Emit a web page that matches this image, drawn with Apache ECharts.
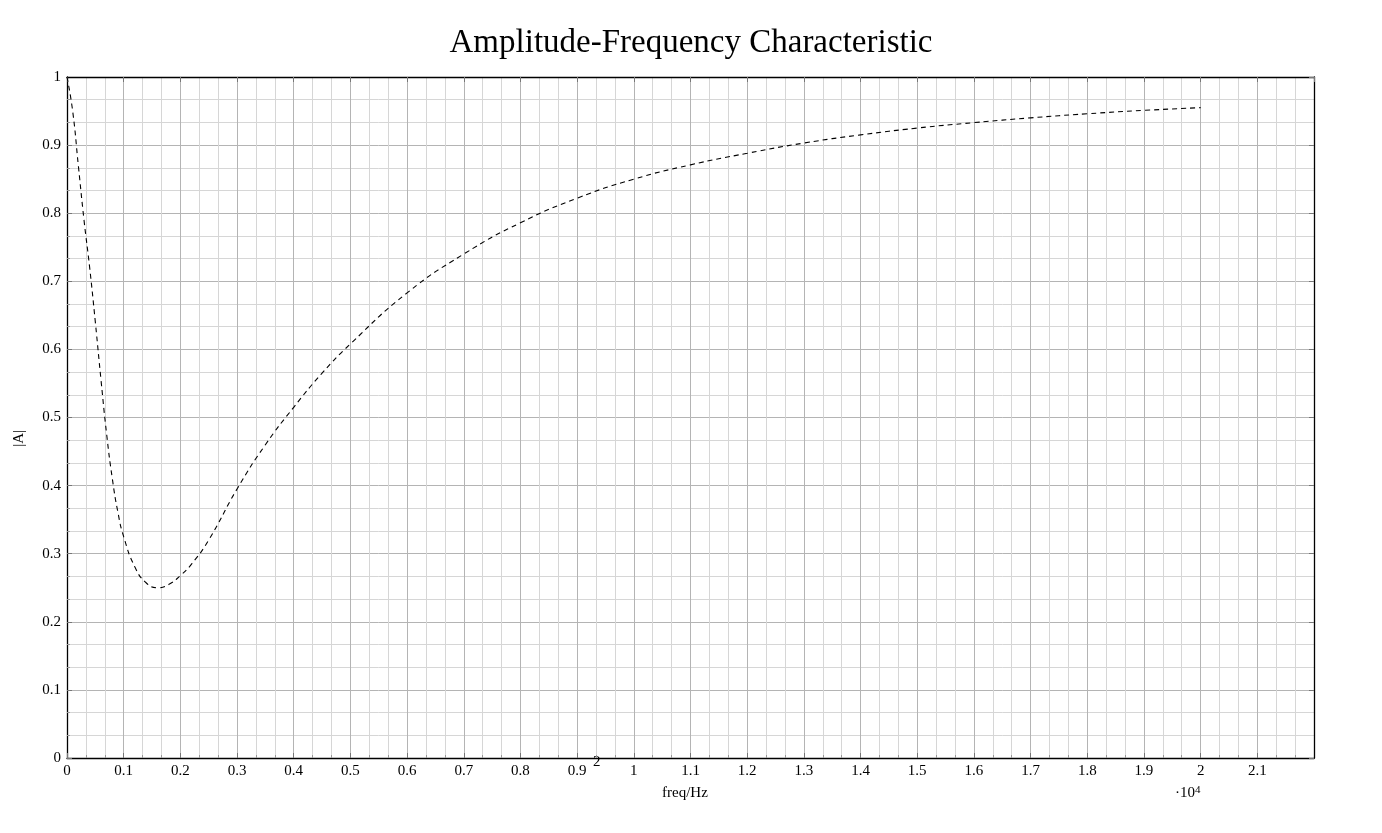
<!DOCTYPE html>
<html>
<head>
<meta charset="utf-8">
<script src="https://cdn.jsdelivr.net/npm/echarts@6/dist/echarts.min.js"></script>
<style>html,body{margin:0;padding:0;background:#fff}#main{width:1382px;height:833px}</style>
</head>
<body>
<div id="main"></div>
<script>
// frequency in Hz, amplitude |A|
var freqHz = [0, 100, 200, 300, 400, 500, 600, 700, 800, 900, 1000, 1200, 1400, 1600, 1800, 2000, 2200, 2500,
  3000, 3500, 4000, 4500, 5000, 6000, 7000, 8000, 9000, 10000, 11000, 12000, 13000, 14000, 15000, 16000, 17000, 18000, 19000, 20000];
var amplitude = [1, 0.95, 0.87, 0.79, 0.72, 0.64, 0.555, 0.475, 0.41, 0.36, 0.325, 0.28, 0.257, 0.25, 0.255, 0.268, 0.285, 0.32,
  0.395, 0.46, 0.515, 0.565, 0.608, 0.683, 0.74, 0.786, 0.822, 0.85, 0.871, 0.888, 0.903, 0.915, 0.925, 0.933, 0.94, 0.946, 0.951, 0.955];

var serif = '"Liberation Serif", "DejaVu Serif", serif';
var points = freqHz.map(function(f, i){ return [f, amplitude[i]]; });

var chart = echarts.init(document.getElementById('main'));

var baseAxis = {
  z: 5,
  axisLine: {show: true, onZero: false, lineStyle: {color: '#000', width: 1.3}},
  axisTick: {show: true, inside: true, length: 5, lineStyle: {color: '#777'}},
  minorTick: {show: true, splitNumber: 3, length: 3, lineStyle: {color: '#999'}},
  splitLine: {show: true, lineStyle: {color: '#b4b4b4', width: 1}},
  minorSplitLine: {show: true, lineStyle: {color: '#d6d6d6', width: 1}}
};
var mirror = {
  z: 6,
  axisLine: {show: true, onZero: false, lineStyle: {color: '#000', width: 1.3}},
  axisTick: {show: true, inside: true, length: 5, lineStyle: {color: '#777'}},
  axisLabel: {show: false}, splitLine: {show: false}
};

chart.setOption({
  animation: false,
  title: {
    text: 'Amplitude-Frequency Characteristic',
    left: 'center', top: 22,
    textStyle: {fontFamily: serif, fontSize: 33, fontWeight: 'normal', color: '#000'}
  },
  grid: {left: 67, right: 68, top: 77, bottom: 75},
  xAxis: [
    Object.assign({}, baseAxis, {
      type: 'value', min: 0, max: 22000, interval: 1000,
      axisLabel: {
        fontFamily: serif, fontSize: 15, color: '#000', margin: 6,
        formatter: function(v){ return v >= 22000 ? '' : String(+(v / 10000).toFixed(1)); }
      }
    }),
    Object.assign({}, mirror, {type: 'value', position: 'top', min: 0, max: 22000, interval: 1000})
  ],
  yAxis: [
    Object.assign({}, baseAxis, {
      type: 'value', min: 0, max: 1, interval: 0.1,
      axisLabel: {fontFamily: serif, fontSize: 15, color: '#000', margin: 6,
        formatter: function(v){ return String(+v.toFixed(1)); }}
    }),
    Object.assign({}, mirror, {type: 'value', position: 'right', min: 0, max: 1, interval: 0.1})
  ],
  graphic: [
    {type: 'text', left: 662, top: 786, style: {text: 'freq/Hz', font: '15px ' + serif, fill: '#000'}},
    {type: 'text', left: 12, top: 430, rotation: Math.PI / 2,
      style: {text: '|A|', font: '15px ' + serif, fill: '#000'}},
    {type: 'text', left: 1175, top: 785, style: {
      rich: {b: {font: '15px ' + serif, fill: '#000', padding: [6, 0, 0, 0]}, s: {font: '11px ' + serif, fill: '#000'}},
      text: '{b|·10}{s|4}'}},
    {type: 'text', left: 593, top: 755, style: {text: '2', font: '15px ' + serif, fill: '#000'}}
  ],
  series: [{
    type: 'line', data: points, smooth: true, symbol: 'none', z: 10,
    lineStyle: {color: '#000', width: 1.1, type: [5, 4]}
  }]
});
</script>
</body>
</html>
